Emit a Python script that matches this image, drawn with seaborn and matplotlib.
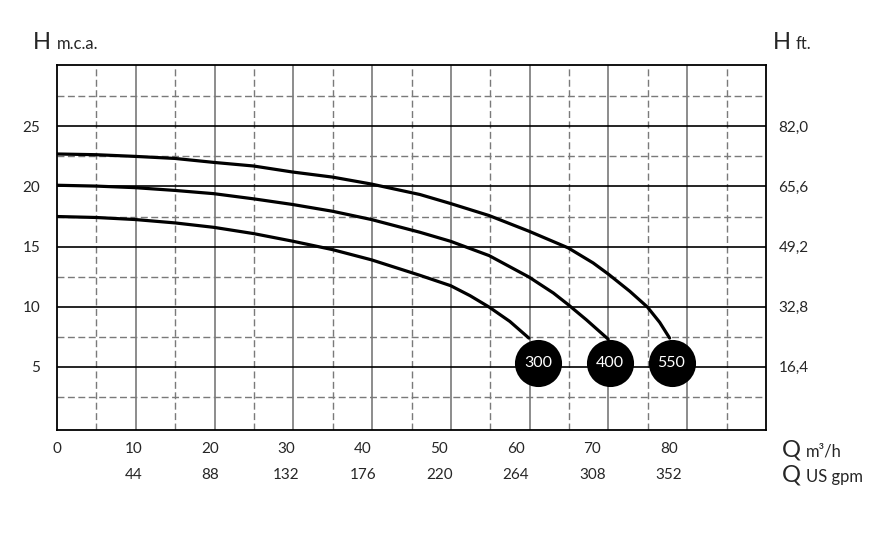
import numpy as np
import pandas as pd
import seaborn as sns
import matplotlib.pyplot as plt
import matplotlib.transforms as mtransforms

# flow (m3/h) and head (m.c.a.)
q_300 = [0, 5.1, 10.2, 15.4, 20.5, 25.7, 30.8, 36.0, 41.1, 47.45, 51.46, 54.0, 56.5, 59.2, 61.7]
h_300 = [17.5, 17.42, 17.25, 16.97, 16.6, 16.08, 15.45, 14.75, 13.9, 12.61, 11.75, 10.92, 9.97, 8.78, 7.39]

q_400 = [0, 5.1, 10.2, 15.4, 20.5, 25.7, 30.8, 36.0, 41.1, 47.45, 51.46, 56.5, 61.7, 64.9, 66.84,
         69.2, 72.07]
h_400 = [20.1, 20.03, 19.9, 19.67, 19.4, 18.97, 18.5, 17.94, 17.25, 16.19, 15.44, 14.25, 12.47, 11.14,
         10.17, 8.92, 7.3]

q_550 = [0, 5.1, 10.2, 15.4, 20.5, 25.7, 30.8, 36.0, 41.1, 47.45, 51.46, 56.5, 61.7, 66.84, 70.1,
         72.07, 74.9, 77.2, 78.8, 80.1]
h_550 = [22.7, 22.64, 22.5, 22.33, 22.0, 21.7, 21.2, 20.78, 20.2, 19.33, 18.58, 17.58, 16.28, 14.89,
         13.64, 12.72, 11.28, 9.97, 8.7, 7.39]

models = ["300", "400", "550"]
badge_q = [62.9, 72.3, 80.35]
badge_h = [5.33, 5.33, 5.36]

q_ticks = [0, 10, 20, 30, 40, 50, 60, 70, 80]
gpm_labels = ["44", "88", "132", "176", "220", "264", "308", "352"]
h_ticks = [5, 10, 15, 20, 25]
ft_labels = ["16,4", "32,8", "49,2", "65,6", "82,0"]

curves = pd.concat([
    pd.DataFrame({"q": q_300, "h": h_300, "model": "300"}),
    pd.DataFrame({"q": q_400, "h": h_400, "model": "400"}),
    pd.DataFrame({"q": q_550, "h": h_550, "model": "550"}),
])
badges = pd.DataFrame({"q": badge_q, "h": badge_h, "model": models})

sns.set_style("white")
plt.rcParams['font.family'] = ['Lato', 'DejaVu Sans']

fig = plt.figure(figsize=(8.84, 5.34), dpi=100)
ax = fig.add_axes([0.0645, 0.1948, 0.802, 0.6835])

xmax = 92.7
ax.set_xlim(0, xmax)
ax.set_ylim(-0.25, 30.1)

# grid: vertical lines alternate solid / dashed, horizontal black + dashed gray
gx = np.linspace(0, xmax, 19)
for i, x in enumerate(gx[1:-1], start=1):
    if i % 2 == 0:
        ax.axvline(x, color="#6e6e6e", lw=1.1, zorder=1)
    else:
        ax.axvline(x, color="#7a7a7a", lw=1.0, ls=(0, (5, 2.5)), zorder=1)
for y in h_ticks:
    ax.axhline(y, color="black", lw=1.2, zorder=1)
for y in np.arange(2.5, 30, 5):
    ax.axhline(y, color="#7a7a7a", lw=1.0, ls=(0, (5, 2.5)), zorder=1)

sns.lineplot(data=curves, x="q", y="h", units="model", estimator=None,
             color="black", lw=2.3, sort=False, ax=ax, zorder=3,
             solid_joinstyle="round", solid_capstyle="round")
sns.scatterplot(data=badges, x="q", y="h", color="black", s=1150,
                edgecolor="black", linewidth=0, ax=ax, zorder=4, legend=False)
for q, h, m in zip(badge_q, badge_h, models):
    ax.text(q, h, m, color="white", fontsize=11.5, ha="center", va="center", zorder=5)

for s in ax.spines.values():
    s.set_color("black")
    s.set_linewidth(1.3)

ax.set_xlabel("")
ax.set_ylabel("")
ax.set_xticks(q_ticks)
ax.set_xticklabels([str(v) for v in q_ticks], fontsize=11)
ax.set_yticks(h_ticks)
ax.set_yticklabels([str(v) for v in h_ticks], fontsize=11)
ax.tick_params(length=0, pad=9)
ax.tick_params(axis="y", pad=12)

ax2 = ax.twinx()
ax2.set_ylim(ax.get_ylim())
ax2.set_yticks(h_ticks)
ax2.set_yticklabels(ft_labels, fontsize=11)
ax2.tick_params(length=0, pad=9)
for s in ax2.spines.values():
    s.set_visible(False)

# second row of flow labels in US gpm
trans = mtransforms.blended_transform_factory(ax.transData, ax.transAxes)
for q, lab in zip(q_ticks[1:], gpm_labels):
    ax.text(q, -0.122, lab, transform=trans, fontsize=11, ha="center", va="center")

# unit captions
fig.text(0.037, 0.921, "H", fontsize=17, va="center", ha="left")
fig.text(0.064, 0.918, "m.c.a.", fontsize=12, va="center", ha="left")
fig.text(0.874, 0.921, "H", fontsize=17, va="center", ha="left")
fig.text(0.900, 0.918, "ft.", fontsize=12, va="center", ha="left")
fig.text(0.885, 0.157, "Q", fontsize=17, va="center", ha="left")
fig.text(0.912, 0.155, "m³/h", fontsize=12, va="center", ha="left")
fig.text(0.885, 0.111, "Q", fontsize=17, va="center", ha="left")
fig.text(0.912, 0.107, "US gpm", fontsize=12, va="center", ha="left")

fig.savefig("out.png", dpi=100)
